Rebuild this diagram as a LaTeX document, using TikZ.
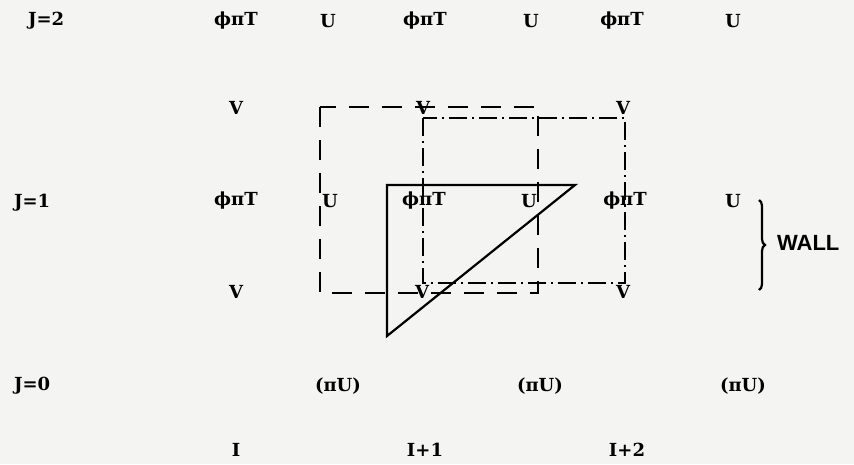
\documentclass[tikz,border=0pt]{standalone}
\usepackage{fontspec}
\newfontfamily\typefont{DejaVu Serif}
\setsansfont{Liberation Sans}
\usepackage{tikz}
\usetikzlibrary{decorations.pathreplacing}
\definecolor{paper}{HTML}{F4F4F2}

\begin{document}
\begin{tikzpicture}[x=1pt, y=-1pt, line width=2.2pt,
  every node/.style={font=\fontsize{18}{22}\selectfont\typefont\bfseries, inner sep=0pt},
  longdash/.style={dash pattern=on 20pt off 13pt},
  dashdot/.style={dash pattern=on 18pt off 5pt on 2pt off 5pt}]
  % Sheet
  \fill[paper] (0,0) rectangle (854,464);
  \useasboundingbox (0,0) rectangle (854,464);

  % Row J=2
  \node[anchor=west] (jtwo) at (27,21) {J=2};
  \node (ftwoa) at (236,21) {ϕπT};
  \node (utwoa) at (328,21) {U};
  \node (ftwob) at (425,21) {ϕπT};
  \node (utwob) at (531,21) {U};
  \node (ftwoc) at (622,21) {ϕπT};
  \node (utwoc) at (733,21) {U};

  % Upper V points
  \node (vupa) at (236,108) {V};
  \node (vupb) at (423,108) {V};
  \node (vupc) at (623,108) {V};

  % Row J=1
  \node[anchor=west] (jone) at (13,203) {J=1};
  \node (fonea) at (236,201) {ϕπT};
  \node (uonea) at (330,201) {U};
  \node (foneb) at (424,201) {ϕπT};
  \node (uoneb) at (529,201) {U};
  \node (fonec) at (625,201) {ϕπT};
  \node (uonec) at (733,201) {U};

  % Lower V points
  \node (vloa) at (236,292) {V};
  \node (vlob) at (422,292) {V};
  \node (vloc) at (623,292) {V};

  % Row J=0
  \node[anchor=west] (jzero) at (13,386) {J=0};
  \node (pua) at (338,386) {(πU)};
  \node (pub) at (540,386) {(πU)};
  \node (puc) at (743,386) {(πU)};

  % Column indices
  \node (ia) at (236,450) {I};
  \node (ib) at (425,450) {I+1};
  \node (ic) at (627,450) {I+2};

  % Cell for U (dashed)
  \draw[longdash] (320,107) rectangle (538,293);

  % Cell for V (dash-dot)
  \draw[dashdot] (423,118) rectangle (625,283);

  % Wall cut
  \draw[line join=miter] (387,185) -- (575,185) -- (387,336) -- cycle;

  % Wall label
  \draw[decorate, decoration={brace, amplitude=6pt}] (759,200) -- (759,290);
  \node[font=\fontsize{22}{26}\selectfont\sffamily\bfseries, anchor=west] (wall) at (776,243) {WALL};
\end{tikzpicture}
\end{document}
